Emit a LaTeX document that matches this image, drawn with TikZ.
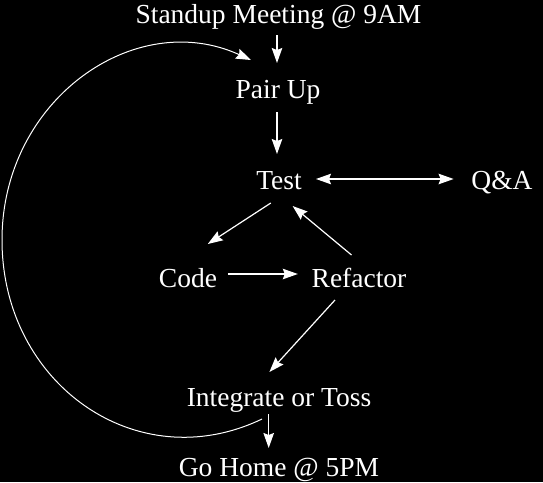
\documentclass[tikz,border=0pt]{standalone}
\usepackage{fontspec}
\setmainfont{Liberation Serif}
\usetikzlibrary{arrows.meta,calc}
\begin{document}
\begin{tikzpicture}[x=1pt,y=-1pt,
  lbl/.style={anchor=base,inner sep=0pt,text=white,font=\fontsize{27.5}{30}\selectfont},
  flow/.style={draw=white,line width=1.2pt,-{Stealth[length=15pt,width=10.5pt,inset=2pt]}},
  both/.style={draw=white,line width=1.2pt,{Stealth[length=15pt,width=10.5pt,inset=2pt]}-{Stealth[length=15pt,width=10.5pt,inset=2pt]}},
  loop/.style={draw=white,line width=1pt,-{Stealth[length=15pt,width=10.5pt,inset=2pt]}}]
\fill[black] (0,0) rectangle (543,482);
\useasboundingbox (0,0) rectangle (543,482);
\node[lbl] (standup) at (278.5,23) {Standup Meeting @ 9AM};
\node[lbl] (pair) at (278,98) {Pair Up};
\node[lbl] (test) at (279,189) {Test};
\node[lbl] (qa) at (502,189) {Q\&A};
\node[lbl] (code) at (188,287) {Code};
\node[lbl] (refactor) at (359,287) {Refactor};
\node[lbl] (integ) at (279,406) {Integrate or Toss};
\node[lbl] (home) at (279,476) {Go Home @ 5PM};
\coordinate (loopleft) at (2,240);
\draw[flow] ($(standup.base)+(-1.5,12)$) -- ($(pair.base)+(-1,-35)$);
\draw[flow] ($(pair.base)+(-1,14)$) -- ($(test.base)+(-2,-35)$);
\draw[both] ($(test.base)+(37,-10)$) -- ($(qa.base)+(-48.4,-10)$);
\draw[flow] ($(test.base)+(-8.2,14)$) -- ($(code.base)+(19.8,-43)$);
\draw[flow] ($(refactor.base)+(-7.5,-32)$) -- ($(test.base)+(13.6,17)$);
\draw[flow] ($(code.base)+(39.8,-13)$) -- ($(refactor.base)+(-61.2,-13)$);
\draw[flow] ($(refactor.base)+(-24,13)$) -- ($(integ.base)+(-9.6,-34)$);
\draw[flow] ($(integ.base)+(-10.3,8)$) -- ($(home.base)+(-10.3,-28)$);
\draw[loop] ($(integ.base)+(-17,13)$) .. controls (137,479) and (2,384) .. (loopleft)
  .. controls (2,100) and (134.7,6.9) .. ($(pair.base)+(-27,-38)$);
\end{tikzpicture}
\end{document}
